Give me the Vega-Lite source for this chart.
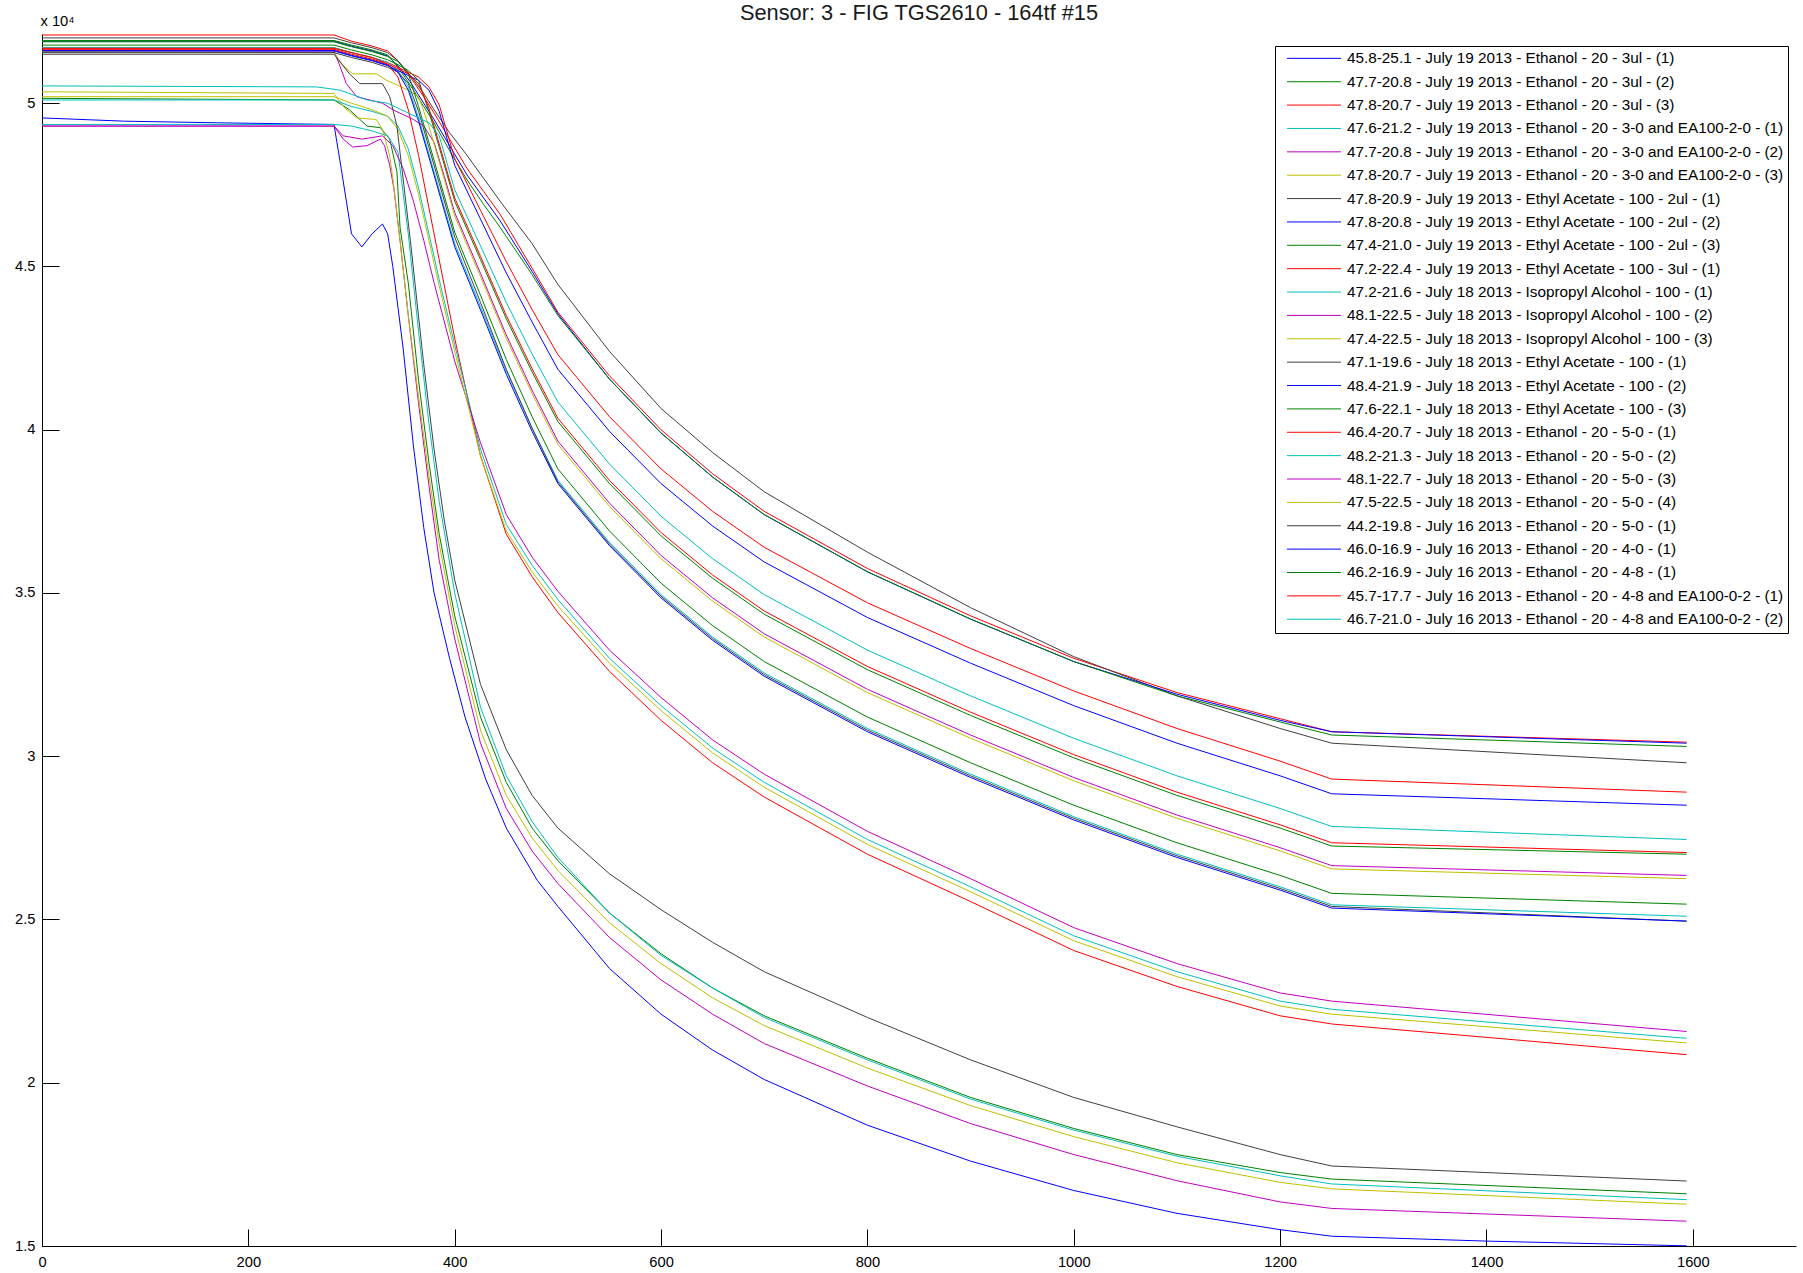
{
"$schema": "https://vega.github.io/schema/vega-lite/v6.json",
"width": 1754, "height": 1212,
"autosize": {"type": "none"},
"padding": {"left": 42, "top": 34, "right": 7, "bottom": 27},
"background": "white",
"config": {"view": {"stroke": null}, "font": "Liberation Sans"},
"title": {"text": "Sensor: 3 - FIG TGS2610 - 164tf #15", "font": "Liberation Sans", "fontSize": 21.8, "fontWeight": "normal", "color": "#1a1a1a", "anchor": "middle", "frame": "group", "offset": -28.5, "baseline": "alphabetic"},
"datasets": {
"series": [
{"i":1,"name":"45.8-25.1 - July 19 2013 - Ethanol - 20 - 3ul - (1)"},
{"i":2,"name":"47.7-20.8 - July 19 2013 - Ethanol - 20 - 3ul - (2)"},
{"i":3,"name":"47.8-20.7 - July 19 2013 - Ethanol - 20 - 3ul - (3)"},
{"i":4,"name":"47.6-21.2 - July 19 2013 - Ethanol - 20 - 3-0 and EA100-2-0 - (1)"},
{"i":5,"name":"47.7-20.8 - July 19 2013 - Ethanol - 20 - 3-0 and EA100-2-0 - (2)"},
{"i":6,"name":"47.8-20.7 - July 19 2013 - Ethanol - 20 - 3-0 and EA100-2-0 - (3)"},
{"i":7,"name":"47.8-20.9 - July 19 2013 - Ethyl Acetate - 100 - 2ul - (1)"},
{"i":8,"name":"47.8-20.8 - July 19 2013 - Ethyl Acetate - 100 - 2ul - (2)"},
{"i":9,"name":"47.4-21.0 - July 19 2013 - Ethyl Acetate - 100 - 2ul - (3)"},
{"i":10,"name":"47.2-22.4 - July 19 2013 - Ethyl Acetate - 100 - 3ul - (1)"},
{"i":11,"name":"47.2-21.6 - July 18 2013 - Isopropyl Alcohol - 100 - (1)"},
{"i":12,"name":"48.1-22.5 - July 18 2013 - Isopropyl Alcohol - 100 - (2)"},
{"i":13,"name":"47.4-22.5 - July 18 2013 - Isopropyl Alcohol - 100 - (3)"},
{"i":14,"name":"47.1-19.6 - July 18 2013 - Ethyl Acetate - 100 - (1)"},
{"i":15,"name":"48.4-21.9 - July 18 2013 - Ethyl Acetate - 100 - (2)"},
{"i":16,"name":"47.6-22.1 - July 18 2013 - Ethyl Acetate - 100 - (3)"},
{"i":17,"name":"46.4-20.7 - July 18 2013 - Ethanol - 20 - 5-0 - (1)"},
{"i":18,"name":"48.2-21.3 - July 18 2013 - Ethanol - 20 - 5-0 - (2)"},
{"i":19,"name":"48.1-22.7 - July 18 2013 - Ethanol - 20 - 5-0 - (3)"},
{"i":20,"name":"47.5-22.5 - July 18 2013 - Ethanol - 20 - 5-0 - (4)"},
{"i":21,"name":"44.2-19.8 - July 16 2013 - Ethanol - 20 - 5-0 - (1)"},
{"i":22,"name":"46.0-16.9 - July 16 2013 - Ethanol - 20 - 4-0 - (1)"},
{"i":23,"name":"46.2-16.9 - July 16 2013 - Ethanol - 20 - 4-8 - (1)"},
{"i":24,"name":"45.7-17.7 - July 16 2013 - Ethanol - 20 - 4-8 and EA100-0-2 - (1)"},
{"i":25,"name":"46.7-21.0 - July 16 2013 - Ethanol - 20 - 4-8 and EA100-0-2 - (2)"}
],
"curves": [
{"i":1,"x":0,"y":49550},{"i":1,"x":80,"y":49450},{"i":1,"x":170,"y":49400},{"i":1,"x":283,"y":49350},{"i":1,"x":290,"y":48000},{"i":1,"x":300,"y":46000},{"i":1,"x":310,"y":45600},{"i":1,"x":320,"y":46000},{"i":1,"x":330,"y":46300},{"i":1,"x":335,"y":46000},{"i":1,"x":340,"y":45000},{"i":1,"x":350,"y":42500},{"i":1,"x":360,"y":39500},{"i":1,"x":370,"y":37000},{"i":1,"x":380,"y":35000},{"i":1,"x":395,"y":33000},{"i":1,"x":410,"y":31200},{"i":1,"x":430,"y":29300},{"i":1,"x":450,"y":27800},{"i":1,"x":480,"y":26200},{"i":1,"x":500,"y":25400},{"i":1,"x":550,"y":23500},{"i":1,"x":600,"y":22100},{"i":1,"x":650,"y":21000},{"i":1,"x":700,"y":20100},{"i":1,"x":800,"y":18700},{"i":1,"x":900,"y":17600},{"i":1,"x":1000,"y":16700},{"i":1,"x":1100,"y":16000},{"i":1,"x":1200,"y":15500},{"i":1,"x":1250,"y":15300},{"i":1,"x":1400,"y":15150},{"i":1,"x":1594,"y":15005},
{"i":2,"x":0,"y":50150},{"i":2,"x":283,"y":50100},{"i":2,"x":298,"y":49800},{"i":2,"x":315,"y":49300},{"i":2,"x":328,"y":49250},{"i":2,"x":337,"y":48900},{"i":2,"x":344,"y":47900},{"i":2,"x":347,"y":46200},{"i":2,"x":355,"y":44500},{"i":2,"x":365,"y":41500},{"i":2,"x":375,"y":39000},{"i":2,"x":385,"y":36800},{"i":2,"x":400,"y":34300},{"i":2,"x":425,"y":31200},{"i":2,"x":450,"y":29200},{"i":2,"x":475,"y":27800},{"i":2,"x":500,"y":26800},{"i":2,"x":550,"y":25200},{"i":2,"x":600,"y":23950},{"i":2,"x":650,"y":22900},{"i":2,"x":700,"y":22050},{"i":2,"x":800,"y":20750},{"i":2,"x":900,"y":19550},{"i":2,"x":1000,"y":18600},{"i":2,"x":1100,"y":17800},{"i":2,"x":1200,"y":17250},{"i":2,"x":1250,"y":17050},{"i":2,"x":1594,"y":16600},
{"i":3,"x":0,"y":52090},{"i":3,"x":283,"y":52090},{"i":3,"x":300,"y":51900},{"i":3,"x":320,"y":51750},{"i":3,"x":335,"y":51600},{"i":3,"x":345,"y":51300},{"i":3,"x":357,"y":50800},{"i":3,"x":370,"y":50200},{"i":3,"x":380,"y":49700},{"i":3,"x":395,"y":48900},{"i":3,"x":412,"y":48000},{"i":3,"x":428,"y":47300},{"i":3,"x":444,"y":46600},{"i":3,"x":475,"y":44950},{"i":3,"x":500,"y":43600},{"i":3,"x":550,"y":41650},{"i":3,"x":600,"y":40000},{"i":3,"x":650,"y":38650},{"i":3,"x":700,"y":37500},{"i":3,"x":800,"y":35750},{"i":3,"x":900,"y":34300},{"i":3,"x":1000,"y":33000},{"i":3,"x":1100,"y":31950},{"i":3,"x":1200,"y":31150},{"i":3,"x":1250,"y":30750},{"i":3,"x":1594,"y":30430},
{"i":4,"x":0,"y":49350},{"i":4,"x":283,"y":49350},{"i":4,"x":300,"y":49300},{"i":4,"x":320,"y":49150},{"i":4,"x":335,"y":49000},{"i":4,"x":345,"y":48500},{"i":4,"x":355,"y":46000},{"i":4,"x":365,"y":43000},{"i":4,"x":375,"y":40200},{"i":4,"x":385,"y":37800},{"i":4,"x":400,"y":35000},{"i":4,"x":425,"y":31500},{"i":4,"x":450,"y":29400},{"i":4,"x":475,"y":28000},{"i":4,"x":500,"y":26900},{"i":4,"x":550,"y":25200},{"i":4,"x":600,"y":23900},{"i":4,"x":650,"y":22900},{"i":4,"x":700,"y":22000},{"i":4,"x":800,"y":20700},{"i":4,"x":900,"y":19500},{"i":4,"x":1000,"y":18550},{"i":4,"x":1100,"y":17750},{"i":4,"x":1200,"y":17150},{"i":4,"x":1250,"y":16900},{"i":4,"x":1594,"y":16420},
{"i":5,"x":0,"y":49300},{"i":5,"x":283,"y":49300},{"i":5,"x":292,"y":48900},{"i":5,"x":301,"y":48660},{"i":5,"x":315,"y":48700},{"i":5,"x":328,"y":48900},{"i":5,"x":332,"y":48700},{"i":5,"x":337,"y":48100},{"i":5,"x":341,"y":47400},{"i":5,"x":347,"y":45800},{"i":5,"x":355,"y":43500},{"i":5,"x":365,"y":40800},{"i":5,"x":375,"y":38300},{"i":5,"x":385,"y":36000},{"i":5,"x":400,"y":33600},{"i":5,"x":425,"y":30400},{"i":5,"x":450,"y":28400},{"i":5,"x":475,"y":27100},{"i":5,"x":500,"y":26100},{"i":5,"x":550,"y":24450},{"i":5,"x":600,"y":23150},{"i":5,"x":650,"y":22100},{"i":5,"x":700,"y":21200},{"i":5,"x":800,"y":19900},{"i":5,"x":900,"y":18750},{"i":5,"x":1000,"y":17800},{"i":5,"x":1100,"y":17000},{"i":5,"x":1200,"y":16350},{"i":5,"x":1250,"y":16150},{"i":5,"x":1594,"y":15760},
{"i":6,"x":0,"y":50350},{"i":6,"x":283,"y":50300},{"i":6,"x":292,"y":49900},{"i":6,"x":305,"y":49550},{"i":6,"x":324,"y":49500},{"i":6,"x":330,"y":49200},{"i":6,"x":337,"y":48400},{"i":6,"x":340,"y":47700},{"i":6,"x":347,"y":45800},{"i":6,"x":355,"y":43500},{"i":6,"x":365,"y":41000},{"i":6,"x":375,"y":38600},{"i":6,"x":385,"y":36500},{"i":6,"x":400,"y":34000},{"i":6,"x":425,"y":30800},{"i":6,"x":450,"y":28800},{"i":6,"x":475,"y":27500},{"i":6,"x":500,"y":26500},{"i":6,"x":550,"y":24900},{"i":6,"x":600,"y":23650},{"i":6,"x":650,"y":22600},{"i":6,"x":700,"y":21750},{"i":6,"x":800,"y":20450},{"i":6,"x":900,"y":19300},{"i":6,"x":1000,"y":18350},{"i":6,"x":1100,"y":17550},{"i":6,"x":1200,"y":16950},{"i":6,"x":1250,"y":16750},{"i":6,"x":1594,"y":16280},
{"i":7,"x":0,"y":52000},{"i":7,"x":283,"y":52000},{"i":7,"x":300,"y":51850},{"i":7,"x":320,"y":51700},{"i":7,"x":335,"y":51550},{"i":7,"x":345,"y":51300},{"i":7,"x":357,"y":50850},{"i":7,"x":370,"y":50300},{"i":7,"x":380,"y":49800},{"i":7,"x":395,"y":49100},{"i":7,"x":412,"y":48400},{"i":7,"x":428,"y":47700},{"i":7,"x":444,"y":47000},{"i":7,"x":475,"y":45700},{"i":7,"x":500,"y":44450},{"i":7,"x":550,"y":42400},{"i":7,"x":600,"y":40650},{"i":7,"x":650,"y":39300},{"i":7,"x":700,"y":38100},{"i":7,"x":800,"y":36250},{"i":7,"x":900,"y":34550},{"i":7,"x":1000,"y":33050},{"i":7,"x":1100,"y":31850},{"i":7,"x":1200,"y":30850},{"i":7,"x":1250,"y":30400},{"i":7,"x":1594,"y":29800},
{"i":8,"x":0,"y":51900},{"i":8,"x":283,"y":51900},{"i":8,"x":300,"y":51750},{"i":8,"x":320,"y":51600},{"i":8,"x":335,"y":51450},{"i":8,"x":345,"y":51150},{"i":8,"x":357,"y":50650},{"i":8,"x":370,"y":50000},{"i":8,"x":380,"y":49500},{"i":8,"x":395,"y":48700},{"i":8,"x":412,"y":47800},{"i":8,"x":428,"y":47100},{"i":8,"x":444,"y":46400},{"i":8,"x":475,"y":44850},{"i":8,"x":500,"y":43550},{"i":8,"x":550,"y":41550},{"i":8,"x":600,"y":39900},{"i":8,"x":650,"y":38550},{"i":8,"x":700,"y":37400},{"i":8,"x":800,"y":35650},{"i":8,"x":900,"y":34200},{"i":8,"x":1000,"y":32900},{"i":8,"x":1100,"y":31900},{"i":8,"x":1200,"y":31100},{"i":8,"x":1250,"y":30750},{"i":8,"x":1594,"y":30400},
{"i":9,"x":0,"y":51920},{"i":9,"x":283,"y":51920},{"i":9,"x":300,"y":51780},{"i":9,"x":320,"y":51630},{"i":9,"x":335,"y":51480},{"i":9,"x":345,"y":51100},{"i":9,"x":357,"y":50550},{"i":9,"x":370,"y":49900},{"i":9,"x":380,"y":49400},{"i":9,"x":395,"y":48550},{"i":9,"x":412,"y":47650},{"i":9,"x":428,"y":46900},{"i":9,"x":444,"y":46200},{"i":9,"x":475,"y":44750},{"i":9,"x":500,"y":43500},{"i":9,"x":550,"y":41550},{"i":9,"x":600,"y":39900},{"i":9,"x":650,"y":38550},{"i":9,"x":700,"y":37400},{"i":9,"x":800,"y":35650},{"i":9,"x":900,"y":34200},{"i":9,"x":1000,"y":32900},{"i":9,"x":1100,"y":31850},{"i":9,"x":1200,"y":31050},{"i":9,"x":1250,"y":30650},{"i":9,"x":1594,"y":30300},
{"i":10,"x":0,"y":51700},{"i":10,"x":283,"y":51700},{"i":10,"x":300,"y":51550},{"i":10,"x":320,"y":51400},{"i":10,"x":335,"y":51250},{"i":10,"x":345,"y":51100},{"i":10,"x":355,"y":50950},{"i":10,"x":365,"y":50800},{"i":10,"x":375,"y":50500},{"i":10,"x":385,"y":49950},{"i":10,"x":400,"y":48300},{"i":10,"x":425,"y":46720},{"i":10,"x":450,"y":45150},{"i":10,"x":475,"y":43680},{"i":10,"x":500,"y":42300},{"i":10,"x":550,"y":40400},{"i":10,"x":600,"y":38800},{"i":10,"x":650,"y":37500},{"i":10,"x":700,"y":36400},{"i":10,"x":800,"y":34700},{"i":10,"x":900,"y":33300},{"i":10,"x":1000,"y":32000},{"i":10,"x":1100,"y":30850},{"i":10,"x":1200,"y":29850},{"i":10,"x":1250,"y":29300},{"i":10,"x":1594,"y":28900},
{"i":11,"x":0,"y":51700},{"i":11,"x":283,"y":51700},{"i":11,"x":300,"y":51550},{"i":11,"x":320,"y":51400},{"i":11,"x":335,"y":51250},{"i":11,"x":345,"y":51000},{"i":11,"x":355,"y":50500},{"i":11,"x":365,"y":49550},{"i":11,"x":375,"y":48450},{"i":11,"x":385,"y":47350},{"i":11,"x":400,"y":45700},{"i":11,"x":425,"y":43770},{"i":11,"x":450,"y":41800},{"i":11,"x":475,"y":40050},{"i":11,"x":500,"y":38450},{"i":11,"x":550,"y":36550},{"i":11,"x":600,"y":34950},{"i":11,"x":650,"y":33650},{"i":11,"x":700,"y":32550},{"i":11,"x":800,"y":30850},{"i":11,"x":900,"y":29450},{"i":11,"x":1000,"y":28150},{"i":11,"x":1100,"y":27000},{"i":11,"x":1200,"y":26000},{"i":11,"x":1250,"y":25450},{"i":11,"x":1594,"y":25100},
{"i":12,"x":0,"y":51600},{"i":12,"x":283,"y":51600},{"i":12,"x":288,"y":51200},{"i":12,"x":295,"y":50600},{"i":12,"x":305,"y":50200},{"i":12,"x":330,"y":50000},{"i":12,"x":340,"y":49800},{"i":12,"x":350,"y":49650},{"i":12,"x":360,"y":49500},{"i":12,"x":370,"y":49300},{"i":12,"x":380,"y":48800},{"i":12,"x":390,"y":47750},{"i":12,"x":400,"y":46650},{"i":12,"x":425,"y":44790},{"i":12,"x":450,"y":42900},{"i":12,"x":475,"y":41210},{"i":12,"x":500,"y":39650},{"i":12,"x":550,"y":37750},{"i":12,"x":600,"y":36150},{"i":12,"x":650,"y":34850},{"i":12,"x":700,"y":33750},{"i":12,"x":800,"y":32050},{"i":12,"x":900,"y":30650},{"i":12,"x":1000,"y":29350},{"i":12,"x":1100,"y":28200},{"i":12,"x":1200,"y":27200},{"i":12,"x":1250,"y":26650},{"i":12,"x":1594,"y":26350},
{"i":13,"x":0,"y":51580},{"i":13,"x":283,"y":51550},{"i":13,"x":292,"y":51150},{"i":13,"x":301,"y":50900},{"i":13,"x":324,"y":50900},{"i":13,"x":334,"y":50700},{"i":13,"x":345,"y":50550},{"i":13,"x":355,"y":50400},{"i":13,"x":365,"y":50200},{"i":13,"x":375,"y":49300},{"i":13,"x":385,"y":48200},{"i":13,"x":400,"y":46550},{"i":13,"x":425,"y":44690},{"i":13,"x":450,"y":42800},{"i":13,"x":475,"y":41110},{"i":13,"x":500,"y":39550},{"i":13,"x":550,"y":37650},{"i":13,"x":600,"y":36050},{"i":13,"x":650,"y":34750},{"i":13,"x":700,"y":33650},{"i":13,"x":800,"y":31950},{"i":13,"x":900,"y":30550},{"i":13,"x":1000,"y":29250},{"i":13,"x":1100,"y":28100},{"i":13,"x":1200,"y":27100},{"i":13,"x":1250,"y":26550},{"i":13,"x":1594,"y":26250},
{"i":14,"x":0,"y":51550},{"i":14,"x":283,"y":51550},{"i":14,"x":300,"y":51400},{"i":14,"x":320,"y":51250},{"i":14,"x":335,"y":51100},{"i":14,"x":345,"y":50950},{"i":14,"x":355,"y":50600},{"i":14,"x":365,"y":49750},{"i":14,"x":375,"y":48650},{"i":14,"x":385,"y":47550},{"i":14,"x":400,"y":45900},{"i":14,"x":425,"y":43900},{"i":14,"x":450,"y":41850},{"i":14,"x":475,"y":40050},{"i":14,"x":500,"y":38400},{"i":14,"x":550,"y":36500},{"i":14,"x":600,"y":34900},{"i":14,"x":650,"y":33600},{"i":14,"x":700,"y":32500},{"i":14,"x":800,"y":30800},{"i":14,"x":900,"y":29400},{"i":14,"x":1000,"y":28100},{"i":14,"x":1100,"y":26950},{"i":14,"x":1200,"y":25950},{"i":14,"x":1250,"y":25400},{"i":14,"x":1594,"y":24950},
{"i":15,"x":0,"y":51600},{"i":15,"x":283,"y":51600},{"i":15,"x":300,"y":51450},{"i":15,"x":320,"y":51300},{"i":15,"x":335,"y":51150},{"i":15,"x":345,"y":51000},{"i":15,"x":355,"y":50850},{"i":15,"x":365,"y":50700},{"i":15,"x":375,"y":50400},{"i":15,"x":385,"y":49750},{"i":15,"x":400,"y":48100},{"i":15,"x":425,"y":46450},{"i":15,"x":450,"y":44800},{"i":15,"x":475,"y":43300},{"i":15,"x":500,"y":41850},{"i":15,"x":550,"y":39950},{"i":15,"x":600,"y":38350},{"i":15,"x":650,"y":37050},{"i":15,"x":700,"y":35950},{"i":15,"x":800,"y":34250},{"i":15,"x":900,"y":32850},{"i":15,"x":1000,"y":31550},{"i":15,"x":1100,"y":30400},{"i":15,"x":1200,"y":29400},{"i":15,"x":1250,"y":28850},{"i":15,"x":1594,"y":28500},
{"i":16,"x":0,"y":51780},{"i":16,"x":283,"y":51780},{"i":16,"x":300,"y":51630},{"i":16,"x":320,"y":51480},{"i":16,"x":335,"y":51330},{"i":16,"x":345,"y":51180},{"i":16,"x":355,"y":51000},{"i":16,"x":365,"y":50700},{"i":16,"x":375,"y":49750},{"i":16,"x":385,"y":48650},{"i":16,"x":400,"y":47000},{"i":16,"x":425,"y":45210},{"i":16,"x":450,"y":43400},{"i":16,"x":475,"y":41770},{"i":16,"x":500,"y":40250},{"i":16,"x":550,"y":38350},{"i":16,"x":600,"y":36750},{"i":16,"x":650,"y":35450},{"i":16,"x":700,"y":34350},{"i":16,"x":800,"y":32650},{"i":16,"x":900,"y":31250},{"i":16,"x":1000,"y":29950},{"i":16,"x":1100,"y":28800},{"i":16,"x":1200,"y":27800},{"i":16,"x":1250,"y":27250},{"i":16,"x":1594,"y":27000},
{"i":17,"x":0,"y":51680},{"i":17,"x":283,"y":51680},{"i":17,"x":300,"y":51550},{"i":17,"x":320,"y":51400},{"i":17,"x":335,"y":51200},{"i":17,"x":345,"y":50800},{"i":17,"x":355,"y":49800},{"i":17,"x":365,"y":48400},{"i":17,"x":375,"y":46800},{"i":17,"x":385,"y":45200},{"i":17,"x":400,"y":42800},{"i":17,"x":425,"y":39200},{"i":17,"x":450,"y":36800},{"i":17,"x":475,"y":35500},{"i":17,"x":500,"y":34400},{"i":17,"x":550,"y":32600},{"i":17,"x":600,"y":31100},{"i":17,"x":650,"y":29800},{"i":17,"x":700,"y":28750},{"i":17,"x":800,"y":27000},{"i":17,"x":900,"y":25550},{"i":17,"x":1000,"y":24050},{"i":17,"x":1100,"y":22950},{"i":17,"x":1200,"y":22050},{"i":17,"x":1250,"y":21800},{"i":17,"x":1594,"y":20860},
{"i":18,"x":0,"y":50100},{"i":18,"x":283,"y":50100},{"i":18,"x":300,"y":49900},{"i":18,"x":320,"y":49750},{"i":18,"x":335,"y":49600},{"i":18,"x":345,"y":49300},{"i":18,"x":355,"y":48600},{"i":18,"x":365,"y":47400},{"i":18,"x":375,"y":46000},{"i":18,"x":385,"y":44600},{"i":18,"x":400,"y":42600},{"i":18,"x":425,"y":39400},{"i":18,"x":450,"y":37100},{"i":18,"x":475,"y":35850},{"i":18,"x":500,"y":34800},{"i":18,"x":550,"y":33000},{"i":18,"x":600,"y":31550},{"i":18,"x":650,"y":30250},{"i":18,"x":700,"y":29200},{"i":18,"x":800,"y":27450},{"i":18,"x":900,"y":26000},{"i":18,"x":1000,"y":24500},{"i":18,"x":1100,"y":23400},{"i":18,"x":1200,"y":22500},{"i":18,"x":1250,"y":22250},{"i":18,"x":1594,"y":21360},
{"i":19,"x":0,"y":49300},{"i":19,"x":283,"y":49300},{"i":19,"x":292,"y":49000},{"i":19,"x":310,"y":48900},{"i":19,"x":330,"y":49000},{"i":19,"x":340,"y":48700},{"i":19,"x":350,"y":48000},{"i":19,"x":360,"y":47000},{"i":19,"x":370,"y":45800},{"i":19,"x":380,"y":44500},{"i":19,"x":390,"y":43300},{"i":19,"x":400,"y":42100},{"i":19,"x":425,"y":39600},{"i":19,"x":450,"y":37400},{"i":19,"x":475,"y":36100},{"i":19,"x":500,"y":35050},{"i":19,"x":550,"y":33250},{"i":19,"x":600,"y":31800},{"i":19,"x":650,"y":30500},{"i":19,"x":700,"y":29450},{"i":19,"x":800,"y":27700},{"i":19,"x":900,"y":26250},{"i":19,"x":1000,"y":24750},{"i":19,"x":1100,"y":23650},{"i":19,"x":1200,"y":22750},{"i":19,"x":1250,"y":22500},{"i":19,"x":1594,"y":21570},
{"i":20,"x":0,"y":50200},{"i":20,"x":283,"y":50200},{"i":20,"x":300,"y":50000},{"i":20,"x":320,"y":49800},{"i":20,"x":335,"y":49600},{"i":20,"x":345,"y":49200},{"i":20,"x":355,"y":48400},{"i":20,"x":365,"y":47200},{"i":20,"x":375,"y":45800},{"i":20,"x":385,"y":44400},{"i":20,"x":400,"y":42400},{"i":20,"x":425,"y":39200},{"i":20,"x":450,"y":36900},{"i":20,"x":475,"y":35650},{"i":20,"x":500,"y":34600},{"i":20,"x":550,"y":32850},{"i":20,"x":600,"y":31400},{"i":20,"x":650,"y":30100},{"i":20,"x":700,"y":29050},{"i":20,"x":800,"y":27300},{"i":20,"x":900,"y":25850},{"i":20,"x":1000,"y":24350},{"i":20,"x":1100,"y":23250},{"i":20,"x":1200,"y":22350},{"i":20,"x":1250,"y":22100},{"i":20,"x":1594,"y":21220},
{"i":21,"x":0,"y":51500},{"i":21,"x":283,"y":51500},{"i":21,"x":298,"y":50900},{"i":21,"x":308,"y":50600},{"i":21,"x":330,"y":50600},{"i":21,"x":337,"y":50200},{"i":21,"x":344,"y":49300},{"i":21,"x":357,"y":45800},{"i":21,"x":370,"y":42000},{"i":21,"x":380,"y":39400},{"i":21,"x":390,"y":37200},{"i":21,"x":400,"y":35400},{"i":21,"x":425,"y":32200},{"i":21,"x":450,"y":30200},{"i":21,"x":475,"y":28800},{"i":21,"x":500,"y":27800},{"i":21,"x":550,"y":26400},{"i":21,"x":600,"y":25300},{"i":21,"x":650,"y":24300},{"i":21,"x":700,"y":23400},{"i":21,"x":800,"y":22000},{"i":21,"x":900,"y":20700},{"i":21,"x":1000,"y":19550},{"i":21,"x":1100,"y":18650},{"i":21,"x":1200,"y":17800},{"i":21,"x":1250,"y":17450},{"i":21,"x":1594,"y":16990},
{"i":22,"x":0,"y":51620},{"i":22,"x":283,"y":51620},{"i":22,"x":300,"y":51470},{"i":22,"x":320,"y":51320},{"i":22,"x":335,"y":51170},{"i":22,"x":345,"y":50950},{"i":22,"x":355,"y":50400},{"i":22,"x":365,"y":49450},{"i":22,"x":375,"y":48350},{"i":22,"x":385,"y":47250},{"i":22,"x":400,"y":45600},{"i":22,"x":425,"y":43670},{"i":22,"x":450,"y":41700},{"i":22,"x":475,"y":39950},{"i":22,"x":500,"y":38350},{"i":22,"x":550,"y":36450},{"i":22,"x":600,"y":34850},{"i":22,"x":650,"y":33550},{"i":22,"x":700,"y":32450},{"i":22,"x":800,"y":30750},{"i":22,"x":900,"y":29350},{"i":22,"x":1000,"y":28050},{"i":22,"x":1100,"y":26900},{"i":22,"x":1200,"y":25900},{"i":22,"x":1250,"y":25350},{"i":22,"x":1594,"y":24950},
{"i":23,"x":0,"y":51880},{"i":23,"x":283,"y":51880},{"i":23,"x":300,"y":51730},{"i":23,"x":320,"y":51580},{"i":23,"x":335,"y":51430},{"i":23,"x":345,"y":51280},{"i":23,"x":355,"y":50900},{"i":23,"x":365,"y":49900},{"i":23,"x":375,"y":48800},{"i":23,"x":385,"y":47700},{"i":23,"x":400,"y":46050},{"i":23,"x":425,"y":44120},{"i":23,"x":450,"y":42150},{"i":23,"x":475,"y":40400},{"i":23,"x":500,"y":38800},{"i":23,"x":550,"y":36900},{"i":23,"x":600,"y":35300},{"i":23,"x":650,"y":34000},{"i":23,"x":700,"y":32900},{"i":23,"x":800,"y":31200},{"i":23,"x":900,"y":29800},{"i":23,"x":1000,"y":28500},{"i":23,"x":1100,"y":27350},{"i":23,"x":1200,"y":26350},{"i":23,"x":1250,"y":25800},{"i":23,"x":1594,"y":25470},
{"i":24,"x":0,"y":51650},{"i":24,"x":283,"y":51650},{"i":24,"x":300,"y":51500},{"i":24,"x":320,"y":51350},{"i":24,"x":335,"y":51200},{"i":24,"x":345,"y":51050},{"i":24,"x":355,"y":50900},{"i":24,"x":365,"y":50600},{"i":24,"x":375,"y":49850},{"i":24,"x":385,"y":48750},{"i":24,"x":400,"y":47100},{"i":24,"x":425,"y":45310},{"i":24,"x":450,"y":43500},{"i":24,"x":475,"y":41870},{"i":24,"x":500,"y":40350},{"i":24,"x":550,"y":38450},{"i":24,"x":600,"y":36850},{"i":24,"x":650,"y":35550},{"i":24,"x":700,"y":34450},{"i":24,"x":800,"y":32750},{"i":24,"x":900,"y":31350},{"i":24,"x":1000,"y":30050},{"i":24,"x":1100,"y":28900},{"i":24,"x":1200,"y":27900},{"i":24,"x":1250,"y":27350},{"i":24,"x":1594,"y":27050},
{"i":25,"x":0,"y":50530},{"i":25,"x":266,"y":50500},{"i":25,"x":289,"y":50400},{"i":25,"x":315,"y":50100},{"i":25,"x":335,"y":50000},{"i":25,"x":345,"y":49850},{"i":25,"x":355,"y":49700},{"i":25,"x":365,"y":49550},{"i":25,"x":375,"y":49400},{"i":25,"x":385,"y":49000},{"i":25,"x":400,"y":47350},{"i":25,"x":425,"y":45630},{"i":25,"x":450,"y":43900},{"i":25,"x":475,"y":42320},{"i":25,"x":500,"y":40850},{"i":25,"x":550,"y":38950},{"i":25,"x":600,"y":37350},{"i":25,"x":650,"y":36050},{"i":25,"x":700,"y":34950},{"i":25,"x":800,"y":33250},{"i":25,"x":900,"y":31850},{"i":25,"x":1000,"y":30550},{"i":25,"x":1100,"y":29400},{"i":25,"x":1200,"y":28400},{"i":25,"x":1250,"y":27850},{"i":25,"x":1594,"y":27450}
]
},
"data": {"name": "curves"},
"transform": [{"lookup": "i", "from": {"data": {"name": "series"}, "key": "i", "fields": ["name"]}}],
"mark": {"type": "line", "strokeWidth": 1},
"encoding": {
"x": {"field": "x", "type": "quantitative", "scale": {"domain": [0, 1700], "nice": false, "zero": false},
 "axis": {"values": [0,200,400,600,800,1000,1200,1400,1600], "format": "d", "title": null, "grid": false, "tickSize": -17, "tickColor": "black", "domainColor": "black", "labelPadding": 25, "labelFont": "Liberation Sans", "labelFontSize": 14.7, "labelColor": "black", "labelFlush": false, "labelOverlap": false}},
"y": {"field": "y", "type": "quantitative", "scale": {"domain": [15000, 52120], "nice": false, "zero": false},
 "axis": {"values": [15000,20000,25000,30000,35000,40000,45000,50000], "labelExpr": "toString(datum.value / 10000)", "grid": false, "tickSize": -17, "tickColor": "black", "domainColor": "black", "labelPadding": 24, "labelFont": "Liberation Sans", "labelFontSize": 14.7, "labelColor": "black", "labelFlush": false, "labelOverlap": false,
  "title": "x 10⁴", "titleAngle": 0, "titleX": -2, "titleY": -9, "titleAlign": "left", "titleBaseline": "alphabetic", "titleFont": "Liberation Sans", "titleFontSize": 14.7, "titleFontWeight": "normal", "titleColor": "black"}},
"color": {"field": "name", "type": "nominal",
 "scale": {"domain": [
"45.8-25.1 - July 19 2013 - Ethanol - 20 - 3ul - (1)",
"47.7-20.8 - July 19 2013 - Ethanol - 20 - 3ul - (2)",
"47.8-20.7 - July 19 2013 - Ethanol - 20 - 3ul - (3)",
"47.6-21.2 - July 19 2013 - Ethanol - 20 - 3-0 and EA100-2-0 - (1)",
"47.7-20.8 - July 19 2013 - Ethanol - 20 - 3-0 and EA100-2-0 - (2)",
"47.8-20.7 - July 19 2013 - Ethanol - 20 - 3-0 and EA100-2-0 - (3)",
"47.8-20.9 - July 19 2013 - Ethyl Acetate - 100 - 2ul - (1)",
"47.8-20.8 - July 19 2013 - Ethyl Acetate - 100 - 2ul - (2)",
"47.4-21.0 - July 19 2013 - Ethyl Acetate - 100 - 2ul - (3)",
"47.2-22.4 - July 19 2013 - Ethyl Acetate - 100 - 3ul - (1)",
"47.2-21.6 - July 18 2013 - Isopropyl Alcohol - 100 - (1)",
"48.1-22.5 - July 18 2013 - Isopropyl Alcohol - 100 - (2)",
"47.4-22.5 - July 18 2013 - Isopropyl Alcohol - 100 - (3)",
"47.1-19.6 - July 18 2013 - Ethyl Acetate - 100 - (1)",
"48.4-21.9 - July 18 2013 - Ethyl Acetate - 100 - (2)",
"47.6-22.1 - July 18 2013 - Ethyl Acetate - 100 - (3)",
"46.4-20.7 - July 18 2013 - Ethanol - 20 - 5-0 - (1)",
"48.2-21.3 - July 18 2013 - Ethanol - 20 - 5-0 - (2)",
"48.1-22.7 - July 18 2013 - Ethanol - 20 - 5-0 - (3)",
"47.5-22.5 - July 18 2013 - Ethanol - 20 - 5-0 - (4)",
"44.2-19.8 - July 16 2013 - Ethanol - 20 - 5-0 - (1)",
"46.0-16.9 - July 16 2013 - Ethanol - 20 - 4-0 - (1)",
"46.2-16.9 - July 16 2013 - Ethanol - 20 - 4-8 - (1)",
"45.7-17.7 - July 16 2013 - Ethanol - 20 - 4-8 and EA100-0-2 - (1)",
"46.7-21.0 - July 16 2013 - Ethanol - 20 - 4-8 and EA100-0-2 - (2)"],
 "range": ["#0000FF","#008000","#FF0000","#00BFBF","#BF00BF","#BFBF00","#404040","#0000FF","#008000","#FF0000","#00BFBF","#BF00BF","#BFBF00","#404040","#0000FF","#008000","#FF0000","#00BFBF","#BF00BF","#BFBF00","#404040","#0000FF","#008000","#FF0000","#00BFBF"]},
 "legend": {"orient": "none", "legendX": 1233, "legendY": 12, "title": null, "symbolType": "M-5,0H5", "symbolSize": 116.6, "symbolStrokeWidth": 1, "symbolFillColor": "transparent", "symbolOffset": 26.65, "labelOffset": 25.35, "labelFont": "Liberation Sans", "labelFontSize": 15.3, "labelColor": "black", "labelLimit": 0, "rowPadding": 7.37, "padding": 4.7, "strokeColor": "black", "fillColor": "white", "symbolLimit": 0}}
}
}
